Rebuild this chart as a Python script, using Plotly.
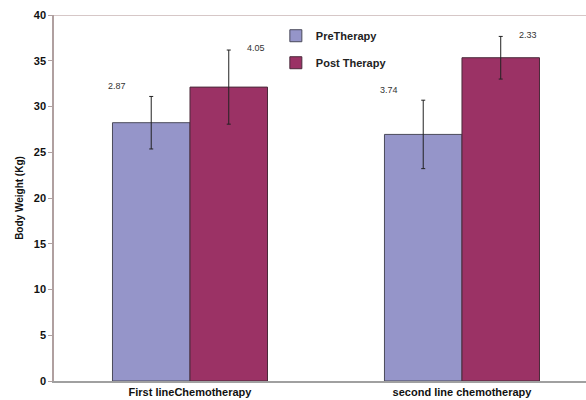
import plotly.graph_objects as go

categories = ["First lineChemotherapy", "second line chemotherapy"]
pre_values = [28.23, 26.95]
post_values = [32.12, 35.33]
pre_errors = [2.87, 3.74]
post_errors = [4.05, 2.33]
series_names = ["PreTherapy", "Post Therapy"]
y_ticks = [0, 5, 10, 15, 20, 25, 30, 35, 40]

PRE_COLOR = "#9595C9"
POST_COLOR = "#9B3265"
FONT = "Liberation Sans, Arial, sans-serif"

fig = go.Figure()
idx = list(range(len(categories)))
fig.add_trace(go.Bar(
    x=idx, y=pre_values, name=series_names[0], legendgroup="a",
    marker=dict(color=PRE_COLOR, line=dict(color="#4a4a5a", width=1)),
    error_y=dict(type="data", array=pre_errors, visible=True, color="#222222", thickness=1, width=2),
))
fig.add_trace(go.Bar(
    x=idx, y=post_values, name=series_names[1], legendgroup="b",
    marker=dict(color=POST_COLOR, line=dict(color="#4a2a3a", width=1)),
    error_y=dict(type="data", array=post_errors, visible=True, color="#222222", thickness=1, width=2),
))

annotations = []
for i in idx:
    annotations.append(dict(
        x=i, y=pre_values[i] + pre_errors[i] + 1.1, xref="x", yref="y",
        text=f"{pre_errors[i]:.2f}", showarrow=False, xshift=-73,
        font=dict(family=FONT, size=9, color="#333333"),
    ))
    annotations.append(dict(
        x=i, y=post_values[i] + post_errors[i] + 0.2, xref="x", yref="y",
        text=f"{post_errors[i]:.2f}", showarrow=False, xshift=66,
        font=dict(family=FONT, size=9, color="#333333"),
    ))

fig.update_layout(
    width=586, height=400,
    margin=dict(l=54, r=0, t=15, b=19),
    paper_bgcolor="white", plot_bgcolor="white",
    barmode="group", bargap=0.43, bargroupgap=0,
    font=dict(family=FONT, color="#111111"),
    showlegend=True,
    legend=dict(
        x=0.417, y=0.983, xanchor="left", yanchor="top",
        bgcolor="rgba(255,255,255,0)",
        font=dict(family=FONT, size=11, color="#222222", weight="bold"),
        traceorder="grouped", tracegroupgap=8,
        itemwidth=30,
    ),
    annotations=annotations,
    shapes=[dict(type="line", xref="paper", yref="y", x0=0, x1=1, y0=40, y1=40,
                 line=dict(color="#c8b4b4", width=1.5))],
    xaxis=dict(
        tickmode="array", tickvals=idx, ticktext=categories,
        range=[-0.5, 1.456],
        showline=True, linecolor="#a0a0a0", linewidth=1.5,
        ticks="", showgrid=False, zeroline=False,
        tickfont=dict(family=FONT, size=11, color="#111111", weight="bold"),
    ),
    yaxis=dict(
        range=[0, 40], tickvals=y_ticks,
        showline=True, linecolor="#b0a0a0", linewidth=1.5,
        ticks="outside", ticklen=4, tickcolor="#b0a0a0",
        showgrid=False, zeroline=False,
        tickfont=dict(family=FONT, size=11, color="#111111", weight="bold"),
        title=dict(text="Body Weight (Kg)", standoff=8,
                   font=dict(family=FONT, size=10, color="#111111", weight="bold")),
    ),
)

fig.write_html("out.html", config={"displayModeBar": False},
               post_script="document.body.style.margin='0';document.body.style.overflow='hidden';")
